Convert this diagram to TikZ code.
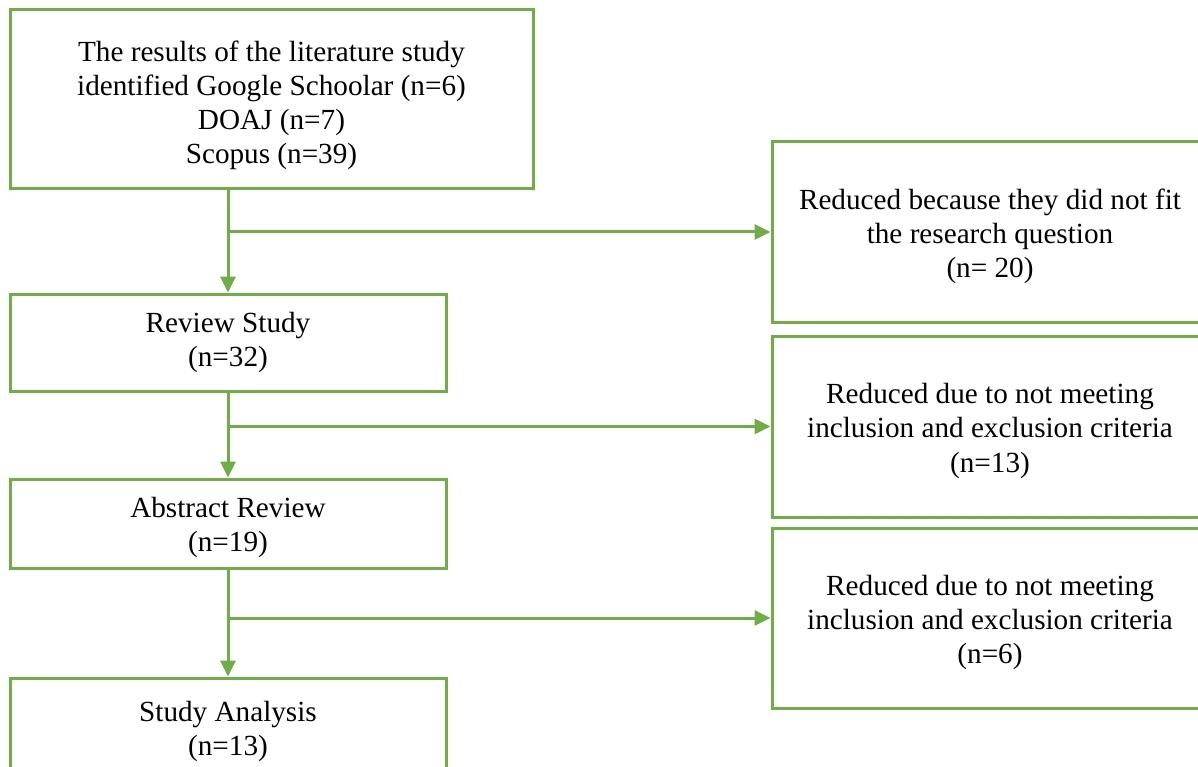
\documentclass[tikz,border=0pt]{standalone}
\usepackage{fontspec}
\setmainfont{Liberation Serif}
\usetikzlibrary{arrows.meta}
\definecolor{boxgreen}{HTML}{70AD47}
\newcommand\topfix{\rule{0pt}{29pt}}
\begin{document}
\begin{tikzpicture}[x=1pt,y=-1pt,
  box/.style={draw=boxgreen, line width=3pt, align=center, inner sep=0pt,
    font=\fontsize{29.2}{34.2}\selectfont, text=black},
  arr/.style={draw=boxgreen, line width=3pt, -{Triangle[length=16pt,width=15pt]}}]
\useasboundingbox (0,0) rectangle (1198,767);
\node[box, minimum width=523pt, minimum height=179pt] (b1) at (271.5,99.5)
  {\rule{0pt}{32pt}The results of the literature study\\identified Google Schoolar (n=6)\\DOAJ (n=7)\\Scopus (n=39)};
\node[box, minimum width=436pt, minimum height=97pt] (b2) at (228,342.5)
  {Review Study\\(n=32)};
\node[box, minimum width=436pt, minimum height=89pt] (b3) at (228,523.5)
  {\topfix Abstract Review\\(n=19)};
\node[box, minimum width=436pt, minimum height=98pt] (b4) at (228,727)
  {\topfix Study Analysis\\(n=13)};
\node[box, minimum width=436pt, minimum height=181pt] (r1) at (990,232)
  {\topfix Reduced because they did not fit\\the research question\\(n= 20)};
\node[box, minimum width=436pt, minimum height=181pt] (r2) at (990,426.5)
  {\topfix Reduced due to not meeting\\inclusion and exclusion criteria\\(n=13)};
\node[box, minimum width=436pt, minimum height=180pt] (r3) at (990,618)
  {\topfix Reduced due to not meeting\\inclusion and exclusion criteria\\(n=6)};
\draw[arr] (b2.north |- b1.south) -- (b2.north);
\draw[arr] (b2.north |- r1.west) -- (r1.west);
\draw[arr] (b2.south) -- (b3.north);
\draw[arr] (b2.south |- r2.west) -- (r2.west);
\draw[arr] (b3.south) -- (b4.north);
\draw[arr] (b3.south |- r3.west) -- (r3.west);
\end{tikzpicture}
\end{document}
